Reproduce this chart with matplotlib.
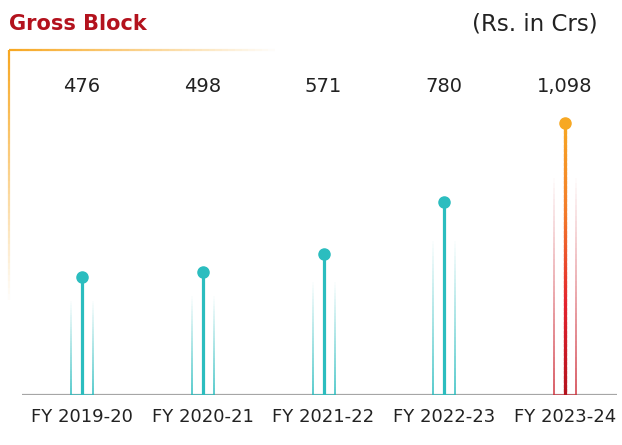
import numpy as np
import matplotlib
matplotlib.use("Agg")
import matplotlib.pyplot as plt
from matplotlib.collections import LineCollection
from matplotlib.colors import LinearSegmentedColormap, to_rgba

# Data
years = ["FY 2019-20", "FY 2020-21", "FY 2021-22", "FY 2022-23", "FY 2023-24"]
values = [476, 498, 571, 780, 1098]
labels = ["476", "498", "571", "780", "1,098"]

teal = "#2BBDBF"
orange = "#F7A823"
red_dark = "#B3121D"
grad = LinearSegmentedColormap.from_list("g", [red_dark, "#E3222E", "#F37A2A", orange])

plt.rcParams["font.family"] = ["DejaVu Sans"]

fig = plt.figure(figsize=(6.22, 4.45), dpi=100)
ax = fig.add_axes([0, 50 / 445, 1, 395 / 445])
x = np.arange(len(values))
ax.set_xlim(-82 / 120.75, (622 - 82) / 120.75)
ax.set_ylim(0, 395 / 0.2475)
for s in ax.spines.values():
    s.set_visible(False)
ax.set_yticks([])
ax.set_xticks(x)
ax.set_xticklabels(years, fontsize=13, color="#222222")
ax.tick_params(axis="x", length=0, pad=9)


def fade_line(ax, x0, y0, y1, color, lw, n=40, horiz=False, y_fixed=None):
    # line fading from full colour at start to transparent at end
    ps = np.linspace(y0, y1, n + 1)
    if horiz:
        segs = [[(ps[i], y_fixed), (ps[i + 1], y_fixed)] for i in range(n)]
    else:
        segs = [[(x0, ps[i]), (x0, ps[i + 1])] for i in range(n)]
    base = to_rgba(color)
    cols = [(base[0], base[1], base[2], 1 - i / n) for i in range(n)]
    ax.add_collection(LineCollection(segs, colors=cols, linewidths=lw, capstyle="butt"))


off = 11 / 120.75
for i, v in enumerate(values):
    last = i == len(values) - 1
    side_col = "#D0343F" if last else teal
    for dx in (-off, off):
        fade_line(ax, x[i] + dx, 0, v * 0.8, side_col, 1.1)
    ax.plot([x[i] - off, x[i] + off], [1.5, 1.5], color=side_col, lw=1.1, alpha=0.8)
    if last:
        n = 60
        ys = np.linspace(0, v, n + 1)
        segs = [[(x[i], ys[k]), (x[i], ys[k + 1])] for k in range(n)]
        cols = [grad(k / n) for k in range(n)]
        ax.add_collection(LineCollection(segs, colors=cols, linewidths=2.3,
                                         capstyle="projecting"))
        ax.plot(x[i], v, "o", color=orange, ms=8)
    else:
        ax.plot([x[i], x[i]], [0, v], color=teal, lw=2.3)
        ax.plot(x[i], v, "o", color=teal, ms=8)
    ax.annotate(labels[i], (x[i], 0), xycoords=("data", "figure fraction"),
                xytext=(x[i], 1 - 86 / 445), textcoords=("data", "figure fraction"),
                ha="center", va="center", fontsize=14, color="#222222")

# baseline
ax.plot([-0.497, 4.43], [0, 0], color="#A6A6A6", lw=1.6, solid_capstyle="butt", zorder=0.5)

# corner bracket (figure pixels)
fax = fig.add_axes([0, 0, 1, 1], facecolor="none")
fax.set_xlim(0, 622)
fax.set_ylim(445, 0)
fax.axis("off")
fade_line(fax, 9, 50, 300, orange, 1.6)
fade_line(fax, None, 9, 275, orange, 1.6, horiz=True, y_fixed=50)

fig.text(9 / 622, 1 - 24 / 445, "Gross Block", fontsize=15, fontweight="bold",
         color="#B3121D", ha="left", va="center")
fig.text(598 / 622, 1 - 24 / 445, "(Rs. in Crs)", fontsize=16.5, color="#222222",
         ha="right", va="center")

fig.savefig("out.png", dpi=100)
